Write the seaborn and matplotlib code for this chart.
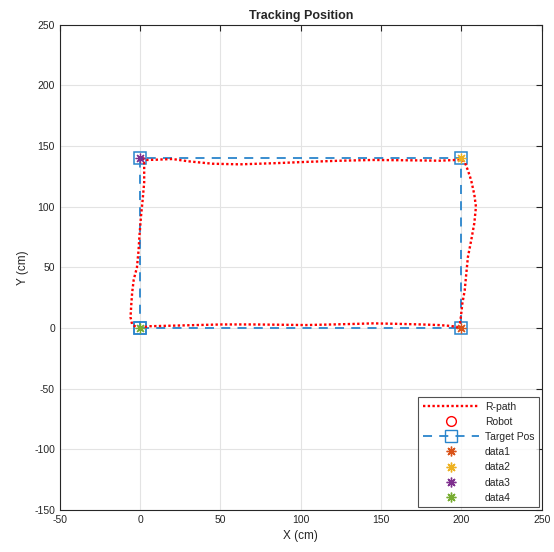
import matplotlib
matplotlib.use("Agg")
import matplotlib.pyplot as plt
import seaborn as sns
import pandas as pd
from matplotlib.lines import Line2D

# Robot path (cm)
path_x = [0, 5, 20, 35, 51, 70, 85, 103, 120, 135, 145, 160, 175, 186, 193, 197, 199,
          199, 199.6, 200.5, 202, 203, 204, 206, 208, 209, 208, 206, 204, 202, 200,
          195, 186, 170, 145, 125, 103, 85, 62, 45, 30, 20, 10, 4, 2,
          2.5, 2.5, 1.5, 0.5, -0.5, -1, -2, -4, -5, -5.5, -6, -5, -2, 0]
path_y = [0, 1.5, 2, 2.5, 3, 3, 2.8, 2.5, 3, 3.5, 3.9, 3.5, 3, 2.5, 1.8, 1, -0.5,
          3, 9, 20, 31, 45, 58.6, 72, 86.6, 100, 110, 122, 130, 137, 139,
          138.5, 138, 138.3, 138.6, 138, 137, 136, 135, 135.5, 137.5, 139.4, 138.8, 138.6, 140,
          135, 120, 105, 92, 75, 64, 50, 40, 29, 20, 9, 3, 0.5, 0]

# Target positions
target_x = [0, 200, 200, 0, 0]
target_y = [0, 0, 140, 140, 0]

# data1..data4 markers
data_names = ["data1", "data2", "data3", "data4"]
data_x = [200, 200, 0, 0]
data_y = [0, 140, 140, 0]
data_colors = ["#D95319", "#EDB120", "#7E2F8E", "#77AC30"]

x_ticks = [-50, 0, 50, 100, 150, 200, 250]
y_ticks = [-150, -100, -50, 0, 50, 100, 150, 200, 250]

sns.set_style("white")
plt.rcParams['font.family'] = ['Liberation Sans', 'DejaVu Sans']
plt.rcParams['axes.unicode_minus'] = False

fig = plt.figure(figsize=(5.54, 5.52), dpi=100)
ax = fig.add_axes([0.108, 0.076, 0.870, 0.879])

ast = (8, 2, 0)
blue = "#2a85cc"

df_path = pd.DataFrame({"x": path_x, "y": path_y})
df_tgt = pd.DataFrame({"x": target_x, "y": target_y})

sns.lineplot(data=df_tgt, x="x", y="y", sort=False, estimator=None, ax=ax,
             color=blue, linestyle=(0, (5, 4)), linewidth=1.3,
             marker="s", markersize=8, markerfacecolor="none",
             markeredgecolor=blue, markeredgewidth=1.1, zorder=2)
sns.lineplot(data=df_path, x="x", y="y", sort=False, estimator=None, ax=ax,
             color="red", linestyle=(0, (1, 1)), linewidth=1.7, zorder=3)
for n, xx, yy, c in zip(data_names, data_x, data_y, data_colors):
    ax.plot([xx], [yy], marker=ast, color=c, markersize=7, linestyle="none",
            markeredgewidth=0.9, zorder=4)

ax.set_xlim(-50, 250)
ax.set_ylim(-150, 250)
ax.set_xticks(x_ticks)
ax.set_yticks(y_ticks)
ax.tick_params(axis="both", labelsize=7.5, direction="in", length=4,
               top=True, right=True, colors="#262626", width=0.8)
ax.grid(True, color="#e3e3e3", linewidth=0.8)
for s in ax.spines.values():
    s.set_color("#262626")
    s.set_linewidth(0.8)
ax.set_xlabel("X (cm)", fontsize=8.5, color="#262626")
ax.set_ylabel("Y (cm)", fontsize=8.5, color="#262626")
ax.set_title("Tracking Position", fontsize=9, fontweight="bold", pad=4)

handles = [
    Line2D([], [], color="red", linestyle=(0, (1, 1)), linewidth=1.7),
    Line2D([], [], color="red", marker="o", markerfacecolor="none", linestyle="none",
           markersize=7),
    Line2D([], [], color=blue, linestyle=(0, (5, 4)), linewidth=1.3, marker="s",
           markerfacecolor="none", markersize=8),
] + [Line2D([], [], color=c, marker=ast, linestyle="none", markersize=7) for c in data_colors]
labels = ["R-path", "Robot", "Target Pos"] + data_names
leg = ax.legend(handles, labels, loc="lower right", fontsize=7.5, frameon=True,
                fancybox=False, edgecolor="#262626", handlelength=5.4,
                borderaxespad=0.25, labelspacing=0.5, handletextpad=0.6,
                borderpad=0.45)
leg.get_frame().set_linewidth(0.8)
for t in leg.get_texts():
    t.set_color("#262626")

fig.savefig("out.png", dpi=100)
